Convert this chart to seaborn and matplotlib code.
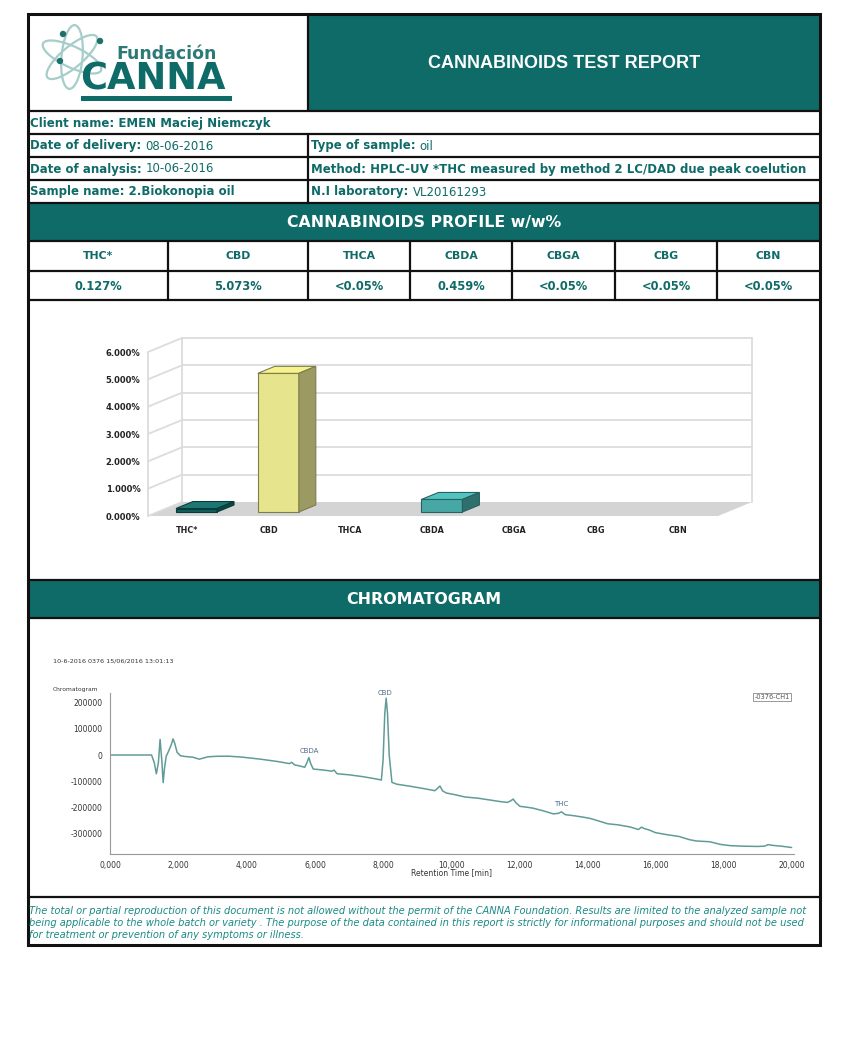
import numpy as np
import pandas as pd
import seaborn as sns
import matplotlib.pyplot as plt
from matplotlib.patches import Rectangle, Polygon, Ellipse, Circle
from matplotlib.transforms import ScaledTranslation

# ---- report data ----
client_name = "EMEN Maciej Niemczyk"
left_rows = [("Date of delivery: ", "08-06-2016"),
             ("Date of analysis: ", "10-06-2016"),
             ("Sample name: 2.Biokonopia oil", "")]
right_rows = [("Type of sample: ", "oil"),
              ("Method: HPLC-UV *THC measured by method 2 LC/DAD due peak coelution", ""),
              ("N.I laboratory: ", "VL20161293")]

cannabinoids = ["THC*", "CBD", "THCA", "CBDA", "CBGA", "CBG", "CBN"]
results_text = ["0.127%", "5.073%", "<0.05%", "0.459%", "<0.05%", "<0.05%", "<0.05%"]
chart_values = [0.127, 5.073, 0, 0.459, 0, 0, 0]
pct_ticks = [0, 1, 2, 3, 4, 5, 6]

# chromatogram
ret_time = [0.0, 1.20, 1.28, 1.34, 1.40, 1.45, 1.50, 1.54, 1.58, 1.63, 1.70, 1.78,
            1.83, 1.88, 1.95, 2.05, 2.20, 2.40, 2.60, 2.85, 3.10, 3.45, 3.85, 4.40,
            4.90, 5.25, 5.32, 5.40, 5.55, 5.70, 5.76, 5.82, 5.88, 5.95, 6.20, 6.50,
            6.56, 6.65, 7.00, 7.40, 7.80, 7.95, 8.00, 8.05, 8.09, 8.13, 8.18, 8.26,
            8.40, 8.80, 9.20, 9.52, 9.60, 9.67, 9.75, 9.86, 10.10, 10.40, 10.80, 11.10,
            11.40, 11.65, 11.75, 11.82, 11.90, 12.02, 12.20, 12.40, 12.70, 13.00, 13.15,
            13.24, 13.35, 13.60, 13.90, 14.10, 14.40, 14.60, 14.90, 15.25, 15.50, 15.59,
            15.68, 15.80, 16.00, 16.30, 16.70, 17.00, 17.20, 17.60, 17.90, 18.20, 18.60,
            19.00, 19.20, 19.31, 19.45, 19.70, 20.00]
signal = [0, 0, -30000, -72000, -30000, 60000, -20000, -106000, -50000, -5000, 15000, 40000,
          62000, 45000, 10000, -3000, -6000, -8000, -16000, -7000, -5000, -4500, -8000, -16000,
          -25000, -33000, -28000, -38000, -42000, -47000, -30000, -10000, -35000, -54000, -57000, -62000,
          -58000, -72000, -76000, -83000, -92000, -96000, -20000, 160000, 218000, 160000, 0, -105000,
          -112000, -120000, -129000, -137000, -128000, -119000, -138000, -146000, -152000, -161000, -166000, -172000,
          -178000, -182000, -176000, -169000, -183000, -197000, -200000, -204000, -214000, -226000, -224000,
          -218000, -229000, -233000, -239000, -244000, -256000, -264000, -268000, -276000, -286000, -277000,
          -283000, -287000, -298000, -305000, -313000, -325000, -330000, -333000, -343000, -348000, -350000,
          -351000, -350000, -344000, -347000, -350000, -355000]
peak_names = ["CBDA", "CBD", "THC"]
peak_time = [5.83, 8.07, 13.22]
peak_label_y = [4000, 225000, -200000]
x_ticks = [0, 2, 4, 6, 8, 10, 12, 14, 16, 18, 20]
x_tick_labels = ["0,000", "2,000", "4,000", "6,000", "8,000", "10,000",
                 "12,000", "14,000", "16,000", "18,000", "20,000"]
y_ticks = [-300000, -200000, -100000, 0, 100000, 200000]

disclaimer = ("The total or partial reproduction of this document is not allowed without the permit of the CANNA Foundation. Results are limited to the analyzed sample not\n"
              "being applicable to the whole batch or variety . The purpose of the data contained in this report is strictly for informational purposes and should not be used\n"
              "for treatment or prevention of any symptoms or illness.")

TEAL = "#0e6b68"
W, H = 848, 1064

sns.set_style("white")
plt.rcParams["font.family"] = ["DejaVu Sans"]

fig = plt.figure(figsize=(W / 100, H / 100), dpi=100)
ax0 = fig.add_axes([0, 0, 1, 1])
ax0.set_xlim(0, W)
ax0.set_ylim(H, 0)
ax0.axis("off")

# ---- frame, bands ----
ax0.add_patch(Rectangle((308, 14), 512, 97, fc=TEAL, ec="none"))
ax0.add_patch(Rectangle((28, 203), 792, 38, fc=TEAL, ec="none"))
ax0.add_patch(Rectangle((28, 580), 792, 38, fc=TEAL, ec="none"))
ax0.add_patch(Rectangle((28, 14), 792, 931, fc="none", ec="#111", lw=2.2))
for y in [111, 134, 157, 180, 203, 241, 271, 300, 580, 618, 897]:
    ax0.plot([28, 820], [y, y], color="#111", lw=1.6)
ax0.plot([308, 308], [14, 111], color="#111", lw=1.6)
ax0.plot([308, 308], [134, 203], color="#111", lw=1.6)
col_edges = [28, 168, 308, 410, 512, 615, 717, 820]
for x in col_edges[1:-1]:
    ax0.plot([x, x], [241, 300], color="#111", lw=1.6)

# ---- logo ----
for ang in [25, -40, 95]:
    ax0.add_patch(Ellipse((72, 57), 64, 21, angle=ang, fc="none", ec="#a6cdca", lw=1.6))
for cx, cy in [(63, 34), (100, 41), (60, 61)]:
    ax0.add_patch(Circle((cx, cy), 3.2, fc="#1f6f6b", ec="none"))
ax0.text(116, 59, "Fundación", fontsize=12.5, color="#2a7a75", fontweight="semibold", va="baseline")
ax0.text(80, 90, "CANNA", fontsize=26.5, color=TEAL, fontweight="bold", va="baseline")
ax0.add_patch(Rectangle((81, 96), 151, 5, fc=TEAL, ec="none"))

ax0.text(564, 63, "CANNABINOIDS TEST REPORT", fontsize=13, color="white",
         fontweight="bold", family="Liberation Sans", ha="center", va="center")

# ---- info rows ----
FS = 8.5


def label(x, y, bold, regular=""):
    t = ax0.text(x, y, bold, fontsize=FS, fontweight="bold", color=TEAL, va="center", ha="left")
    if regular:
        ax0.annotate(regular, xy=(1, 0.5), xycoords=t, va="center", ha="left",
                     fontsize=FS, color=TEAL)


label(30, 123, "Client name: " + client_name)
for i, (b, r) in enumerate(left_rows):
    label(30, 146 + 23 * i, b, r)
for i, (b, r) in enumerate(right_rows):
    label(311, 146 + 23 * i, b, r)

ax0.text(424, 222, "CANNABINOIDS PROFILE w/w%", fontsize=11.3, color="white",
         fontweight="bold", ha="center", va="center")
ax0.text(424, 599, "CHROMATOGRAM", fontsize=11.4, color="white",
         fontweight="bold", ha="center", va="center")

for i, (name, val) in enumerate(zip(cannabinoids, results_text)):
    cx = (col_edges[i] + col_edges[i + 1]) / 2
    ax0.text(cx, 256, name, fontsize=7.8, fontweight="bold", color=TEAL, ha="center", va="center")
    ax0.text(cx, 286, val, fontsize=8.3, fontweight="bold", color=TEAL, ha="center", va="center")

ax0.text(29, 923, disclaimer, fontsize=7.1, style="italic", color="#1b8a85",
         ha="left", va="center", linespacing=1.2)

# ---- 3D-looking bar chart ----
px_x, px_y = 81.8, 27.33
axb = fig.add_axes([148 / W, 1 - 516 / H, (718 - 148) / W, (516 - 352) / H])
df = pd.DataFrame({"name": cannabinoids, "pct": chart_values})
grey = "#999999"
front = ["#115f5c", "#e6e48c", grey, "#47a7a4", grey, grey, grey]
tops = ["#1d7874", "#f7f38c", grey, "#52c4c0", grey, grey, grey]
sides = ["#0a4644", "#9b9a62", grey, "#2f6f6d", grey, grey, grey]
edges = ["#083b39", "#7d7c4e", grey, "#28615f", grey, grey, grey]
sns.barplot(data=df, x="name", y="pct", hue="name", palette=front, legend=False,
            saturation=1, width=41 / px_x, ax=axb, zorder=3)
xl = (-39 / px_x, (718 - 187) / px_x)
axb.set_xlim(xl)
axb.set_ylim(0, 6)
axb.patch.set_alpha(0)

wall_dx, wall_dy = 34 / px_x, 14 / px_y
axb.add_patch(Polygon([(xl[0], 0), (xl[1], 0), (xl[1] + wall_dx, wall_dy), (xl[0] + wall_dx, wall_dy)],
                      fc="#d4d4d4", ec="none", clip_on=False, zorder=0.5))
grid_kw = dict(color="#dcdcdc", lw=1.3, clip_on=False, zorder=0.6)
for v in pct_ticks:
    if v > 0:
        axb.plot([xl[0] + wall_dx, xl[1] + wall_dx], [v + wall_dy, v + wall_dy], **grid_kw)
    axb.plot([xl[0], xl[0] + wall_dx], [v, v + wall_dy], **grid_kw)
for xx in [xl[0] + wall_dx, xl[1] + wall_dx]:
    axb.plot([xx, xx], [wall_dy, 6 + wall_dy], **grid_kw)
axb.plot([xl[0], xl[0]], [0, 6], **grid_kw)

off = axb.transData + ScaledTranslation(9.5 / 100, 4 / 100, fig.dpi_scale_trans)
dx, dy = 17 / px_x, 7 / px_y
for i, cont in enumerate(axb.containers):
    bar = cont[0]
    h = bar.get_height()
    if h <= 0:
        bar.set_visible(False)
        continue
    x0 = bar.get_x()
    x1 = x0 + bar.get_width()
    bar.set_transform(off)
    bar.set_edgecolor(edges[i])
    bar.set_linewidth(0.8)
    bar.set_clip_on(False)
    axb.add_patch(Polygon([(x0, h), (x1, h), (x1 + dx, h + dy), (x0 + dx, h + dy)],
                          fc=tops[i], ec=edges[i], lw=0.8, transform=off, clip_on=False, zorder=3))
    axb.add_patch(Polygon([(x1, 0), (x1, h), (x1 + dx, h + dy), (x1 + dx, dy)],
                          fc=sides[i], ec=edges[i], lw=0.8, transform=off, clip_on=False, zorder=3))

for s in axb.spines.values():
    s.set_visible(False)
axb.set_xlabel("")
axb.set_ylabel("")
axb.set_yticks(pct_ticks)
axb.set_yticklabels([f"{v:.3f}%" for v in pct_ticks], fontsize=6, fontweight="bold", color="#222")
axb.set_xticks(range(len(cannabinoids)))
axb.set_xticklabels(cannabinoids, fontsize=5.8, fontweight="bold", color="#222")
axb.tick_params(axis="y", length=0, pad=5.5)
axb.tick_params(axis="x", length=0, pad=7)

# ---- chromatogram ----
axc = fig.add_axes([109.7 / W, 1 - 854 / H, (794 - 109.7) / W, (854 - 693) / H])
sns.lineplot(x=ret_time, y=signal, color="#5f9c98", lw=1.1, estimator=None, ax=axc)
axc.set_xlim(-0.03, 20.07)
axc.set_ylim(-380000, 238000)
axc.patch.set_alpha(0)
for s in ["top", "right"]:
    axc.spines[s].set_visible(False)
for s in ["left", "bottom"]:
    axc.spines[s].set_color("#999")
    axc.spines[s].set_linewidth(0.8)
axc.set_xticks(x_ticks)
axc.set_xticklabels(x_tick_labels)
axc.set_yticks(y_ticks)
axc.set_yticklabels([str(v) for v in y_ticks])
axc.tick_params(direction="out", length=3, width=0.6, color="#999", labelsize=5.5,
                labelcolor="#333", pad=2)
axc.set_xlabel("Retention Time [min]", fontsize=5.5, color="#333", labelpad=-1)
for name, t, yv in zip(peak_names, peak_time, peak_label_y):
    axc.text(t, yv, name, fontsize=5, color="#4c6b8c", ha="center", va="bottom")

ax0.text(53, 661, "10-6-2016 0376 15/06/2016 13:01:13", fontsize=4.6, color="#333", va="center")
ax0.text(53, 689, "Chromatogram", fontsize=4.3, color="#333", va="center")
ax0.text(772, 697, "-0376-CH1", fontsize=4.8, color="#555", ha="center", va="center",
         bbox=dict(boxstyle="square,pad=0.15", fc="white", ec="#888", lw=0.6))

fig.savefig("out.png", dpi=100)
